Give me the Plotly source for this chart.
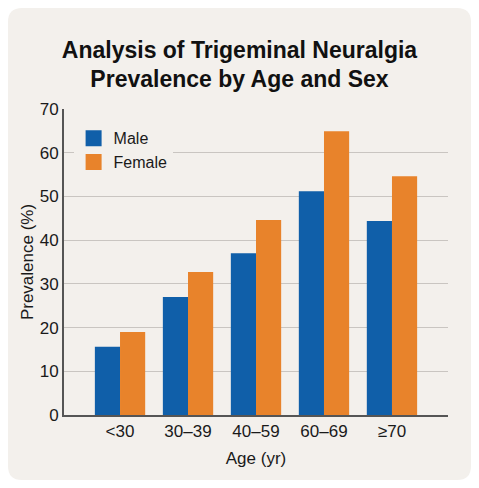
import plotly.graph_objects as go

ages = ['<30', '30\u201339', '40\u201359', '60\u201369', '\u226570']
male = [15.6, 27.0, 37.0, 51.2, 44.4]
female = [19.0, 32.7, 44.6, 64.9, 54.6]

blue = '#105fa9'
orange = '#e8832b'
card = '#f3f0ec'
font = 'Liberation Sans'

# page body has an 8px margin, so the figure is a bit smaller than the window
W, H = 463, 472
ml, mr, mt, mb = 56, 23, 101, 65
pw, ph = W - ml - mr, H - mt - mb


def px(x):
    return (x - ml) / pw


def py(y):
    return (H - mb - y) / ph


# rounded card behind everything
x0, x1, y0, y1, r = 0, W, 0, H, 14
card_path = (
    f'M{px(x0 + r)},{py(y0)} L{px(x1 - r)},{py(y0)} '
    f'Q{px(x1)},{py(y0)} {px(x1)},{py(y0 + r)} '
    f'L{px(x1)},{py(y1 - r)} Q{px(x1)},{py(y1)} {px(x1 - r)},{py(y1)} '
    f'L{px(x0 + r)},{py(y1)} Q{px(x0)},{py(y1)} {px(x0)},{py(y1 - r)} '
    f'L{px(x0)},{py(y0 + r)} Q{px(x0)},{py(y0)} {px(x0 + r)},{py(y0)} Z'
)

fig = go.Figure()
fig.add_trace(go.Bar(x=ages, y=male, name='Male', marker_color=blue,
                     marker_line_width=0, showlegend=False))
fig.add_trace(go.Bar(x=ages, y=female, name='Female', marker_color=orange,
                     marker_line_width=0, showlegend=False))
# legend entries with bigger squares
fig.add_trace(go.Scatter(x=[None], y=[None], mode='markers', name='Male',
                         marker=dict(symbol='square', size=17, color=blue)))
fig.add_trace(go.Scatter(x=[None], y=[None], mode='markers', name='Female',
                         marker=dict(symbol='square', size=17, color=orange)))

fig.update_layout(
    width=W, height=H,
    margin=dict(l=ml, r=mr, t=mt, b=mb),
    paper_bgcolor='white',
    plot_bgcolor=card,
    font=dict(family=font, color='#1a1a1a'),
    title=dict(text='<b>Analysis of Trigeminal Neuralgia<br>Prevalence by Age and Sex</b>',
               x=0.5, xanchor='center', y=0.895, yanchor='middle',
               font=dict(size=23, color='#111111')),
    barmode='group', bargap=0.26, bargroupgap=0,
    showlegend=True,
    legend=dict(x=0.025, y=0.96, xanchor='left', yanchor='top',
                bgcolor=card, font=dict(size=16), itemsizing='trace'),
    shapes=[dict(type='path', path=card_path, xref='paper', yref='paper',
                 fillcolor=card, line=dict(width=0), layer='below')],
)
fig.update_xaxes(range=[-0.824, 4.824], showline=True, linecolor='#555555',
                 linewidth=2, ticks='', tickfont=dict(size=17),
                 title=dict(text='Age (yr)', font=dict(size=17), standoff=12))
fig.update_yaxes(range=[0, 70], dtick=10, showline=True, linecolor='#555555',
                 linewidth=2, showgrid=True, gridcolor='#c9c5c1', gridwidth=1,
                 zeroline=False, ticks='', tickfont=dict(size=17),
                 title=dict(text='Prevalence (%)', font=dict(size=17), standoff=2))

fig.write_html('out.html')
